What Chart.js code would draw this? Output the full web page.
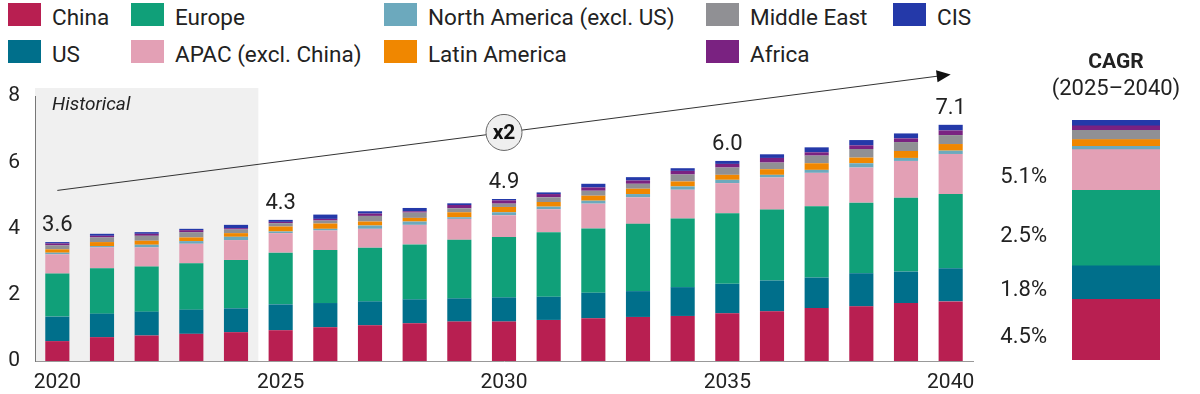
<!DOCTYPE html>
<html><head><meta charset="utf-8">
<script src="https://cdn.jsdelivr.net/npm/chart.js@4.4.1/dist/chart.umd.min.js"></script>
<style>
html,body{margin:0;padding:0;background:#fff;width:1200px;height:394px;overflow:hidden;font-family:Roboto,"Noto Sans",sans-serif;}
#legend{position:absolute;left:8px;top:3px;display:grid;grid-template-rows:37px 37px;grid-template-columns:123px 253px 322px 187px 120px;grid-auto-flow:column;}
.item{display:flex;align-items:flex-start;font-size:22.5px;color:#222;white-space:nowrap;}
.sw{width:33px;height:23px;margin-right:11px;flex:none;}
.item span{line-height:22px;padding-top:3px;}
#main{position:absolute;left:0;top:0;}
#cagr{position:absolute;left:1000px;top:0;}
</style></head>
<body>
<div id="legend"></div>
<canvas id="main" width="1000" height="394"></canvas>
<canvas id="cagr" width="200" height="394"></canvas>
<script>
const years = ['2020','2021','2022','2023','2024','2025','2026','2027','2028','2029','2030','2031','2032','2033','2034','2035','2036','2037','2038','2039','2040'];
const shownYears = ['2020','2025','2030','2035','2040'];
const totalLabels = ['3.6','4.3','4.9','6.0','7.1'];
const historicalYears = ['2020','2021','2022','2023','2024'];

const china   = [0.60,0.72,0.77,0.82,0.87,0.93,1.02,1.08,1.14,1.19,1.19,1.24,1.29,1.33,1.36,1.44,1.50,1.60,1.65,1.75,1.80];
const us      = [0.74,0.71,0.72,0.73,0.72,0.78,0.73,0.72,0.72,0.70,0.73,0.70,0.77,0.78,0.87,0.89,0.93,0.92,1.00,0.95,1.00];
const europe  = [1.30,1.37,1.36,1.40,1.46,1.56,1.60,1.62,1.66,1.77,1.82,1.95,1.94,2.03,2.07,2.13,2.14,2.15,2.13,2.23,2.24];
const apac    = [0.58,0.63,0.58,0.59,0.60,0.59,0.59,0.57,0.59,0.63,0.66,0.69,0.75,0.80,0.87,0.91,0.97,1.01,1.06,1.11,1.21];
const northAm = [0.05,0.04,0.08,0.08,0.10,0.05,0.05,0.10,0.10,0.05,0.09,0.08,0.09,0.10,0.10,0.10,0.08,0.09,0.13,0.09,0.10];
const latAm   = [0.10,0.12,0.12,0.11,0.11,0.15,0.16,0.12,0.11,0.15,0.16,0.14,0.15,0.16,0.15,0.15,0.17,0.20,0.17,0.21,0.20];
const midEast = [0.12,0.14,0.15,0.16,0.11,0.10,0.09,0.17,0.16,0.12,0.10,0.14,0.15,0.15,0.21,0.22,0.20,0.23,0.26,0.27,0.27];
const africa  = [0.06,0.05,0.06,0.06,0.04,0.04,0.05,0.07,0.04,0.10,0.10,0.10,0.10,0.10,0.11,0.11,0.14,0.10,0.11,0.11,0.14];
const cis     = [0.04,0.06,0.05,0.04,0.10,0.06,0.13,0.07,0.10,0.05,0.04,0.05,0.11,0.10,0.08,0.09,0.11,0.15,0.16,0.15,0.17];

const seriesNames  = ['China','US','Europe','APAC (excl. China)','North America (excl. US)','Latin America','Middle East','Africa','CIS'];
const seriesValues = [china, us, europe, apac, northAm, latAm, midEast, africa, cis];
const seriesColors = ['#B81F51','#006F8B','#10A079','#E3A0B5','#6CA9BD','#F08700','#909094','#7A2281','#2439A9'];
const cagrYear = '2040';
const cagrLabels = ['4.5%','1.8%','2.5%','5.1%','','','','',''];

const FONT = 'Roboto, "Noto Sans", sans-serif';

// legend
const lg = document.getElementById('legend');
seriesNames.forEach((n,i)=>{
  const d=document.createElement('div'); d.className='item';
  d.innerHTML='<div class="sw" style="background:'+seriesColors[i]+'"></div><span>'+n+'</span>';
  lg.appendChild(d);
});

const mainPlugin = {
  id:'mainDeco',
  beforeDraw(chart){
    const {ctx, chartArea:a, scales:{x,y}} = chart;
    const lastHist = years.indexOf(historicalYears[historicalYears.length-1]);
    const step = x.getPixelForValue(1)-x.getPixelForValue(0);
    const right = x.getPixelForValue(lastHist)+step/2;
    const top = a.top-8;
    ctx.save();
    ctx.fillStyle='#f0f0f0';
    ctx.fillRect(a.left, top, right-a.left, a.bottom-top);
    ctx.fillStyle='#222';
    ctx.font='italic 19px '+FONT;
    ctx.textBaseline='middle';
    ctx.fillText('Historical', a.left+17, top+17);
    ctx.restore();
  },
  afterDatasetsDraw(chart){
    const {ctx, scales:{x,y}} = chart;
    ctx.save();
    // totals
    ctx.font='22px '+FONT; ctx.fillStyle='#222'; ctx.textAlign='center'; ctx.textBaseline='alphabetic';
    shownYears.forEach((yr,k)=>{
      const i=years.indexOf(yr);
      const tot=seriesValues.reduce((s,arr)=>s+arr[i],0);
      ctx.fillText(totalLabels[k], x.getPixelForValue(i), y.getPixelForValue(tot)-11);
    });
    // arrow
    const x0=x.getPixelForValue(0), y0=y.getPixelForValue(5.15);
    const x1=x.getPixelForValue(years.length-1), y1=y.getPixelForValue(8.65);
    const ang=Math.atan2(y1-y0,x1-x0);
    ctx.strokeStyle='#333'; ctx.lineWidth=1;
    ctx.beginPath(); ctx.moveTo(x0,y0); ctx.lineTo(x1-12*Math.cos(ang), y1-12*Math.sin(ang)); ctx.stroke();
    ctx.fillStyle='#111';
    ctx.beginPath();
    ctx.moveTo(x1,y1);
    ctx.lineTo(x1-14*Math.cos(ang)+6*Math.sin(ang), y1-14*Math.sin(ang)-6*Math.cos(ang));
    ctx.lineTo(x1-14*Math.cos(ang)-6*Math.sin(ang), y1-14*Math.sin(ang)+6*Math.cos(ang));
    ctx.closePath(); ctx.fill();
    // x2 circle
    const t=0.5, cx=x0+(x1-x0)*t, cy=y0+(y1-y0)*t;
    ctx.beginPath(); ctx.arc(cx,cy,18,0,Math.PI*2);
    ctx.fillStyle='#efefef'; ctx.fill();
    ctx.strokeStyle='#666'; ctx.stroke();
    ctx.fillStyle='#111'; ctx.font='bold 21px '+FONT; ctx.textAlign='center'; ctx.textBaseline='middle';
    ctx.fillText('x2', cx, cy+1);
    ctx.restore();
  }
};

new Chart(document.getElementById('main'), {
  type:'bar',
  data:{labels:years, datasets:seriesNames.map((n,i)=>({label:n,data:seriesValues[i],backgroundColor:seriesColors[i],borderWidth:0,barPercentage:0.54,categoryPercentage:1}))},
  options:{
    responsive:false, animation:false, devicePixelRatio:1,
    layout:{padding:{top:96,right:27,left:0,bottom:0}},
    plugins:{legend:{display:false},tooltip:{enabled:false}},
    scales:{
      x:{stacked:true, grid:{display:false,drawTicks:false}, border:{display:true,color:'#999',width:1},
         ticks:{autoSkip:false,maxRotation:0,minRotation:0,padding:9,color:'#222',font:{size:21,family:FONT},
           callback:function(v){const l=this.getLabelForValue(v); return shownYears.includes(l)?l:'';}},
         afterFit(s){s.height=33;}},
      y:{stacked:true,min:0,max:8, grid:{display:false,drawTicks:false}, border:{display:true,color:'#777',width:1},
         ticks:{stepSize:2,padding:15,color:'#222',font:{size:21,family:FONT}},
         afterFit(s){s.width=35;}}
    }
  },
  plugins:[mainPlugin]
});

const ci = years.indexOf(cagrYear);
const cagrTotal = seriesValues.reduce((s,arr)=>s+arr[ci],0);
const cagrPlugin = {
  id:'cagrDeco',
  afterDatasetsDraw(chart){
    const {ctx, chartArea:a} = chart;
    const cx=(a.left+a.right)/2;
    ctx.save();
    ctx.fillStyle='#222'; ctx.textAlign='center'; ctx.textBaseline='middle';
    ctx.font='bold 21px '+FONT; ctx.fillText('CAGR', cx, 63);
    ctx.font='22px '+FONT; ctx.fillText('(2025\u20132040)', cx, 89);
    ctx.font='22px '+FONT; ctx.textAlign='right';
    cagrLabels.forEach((lab,i)=>{
      if(!lab) return;
      const el=chart.getDatasetMeta(i).data[0];
      ctx.fillText(lab, a.left-25, (el.y+el.base)/2+8);
    });
    ctx.restore();
  }
};
new Chart(document.getElementById('cagr'), {
  type:'bar',
  data:{labels:[cagrYear], datasets:seriesNames.map((n,i)=>({label:n,data:[seriesValues[i][ci]],backgroundColor:seriesColors[i],borderWidth:0,barPercentage:1,categoryPercentage:1}))},
  options:{
    responsive:false, animation:false, devicePixelRatio:1,
    layout:{padding:{top:120,right:40,left:72,bottom:34}},
    plugins:{legend:{display:false},tooltip:{enabled:false}},
    scales:{x:{stacked:true,display:false},y:{stacked:true,display:false,min:0,max:cagrTotal}}
  },
  plugins:[cagrPlugin]
});
</script>
</body></html>
